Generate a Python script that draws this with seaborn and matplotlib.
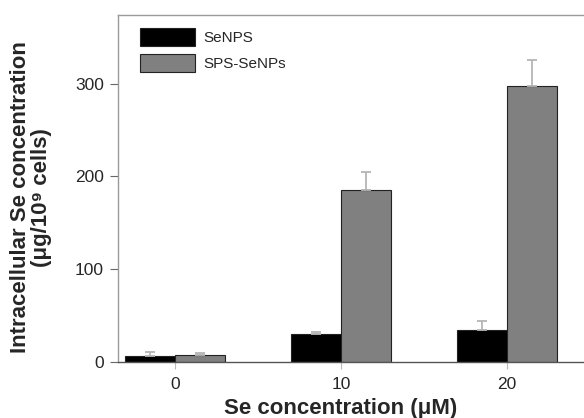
import matplotlib
matplotlib.use("Agg")
import matplotlib.pyplot as plt
import seaborn as sns
import pandas as pd

categories = ["0", "10", "20"]
series = ["SeNPS", "SPS-SeNPs"]
senps_vals = [6.5, 30.0, 34.0]
senps_err = [4.0, 2.5, 10.5]
sps_vals = [7.5, 185.5, 298.0]
sps_err = [2.5, 19.0, 27.0]
yticks = [0, 100, 200, 300]

sns.set_style("white")
plt.rcParams["font.family"] = ["Liberation Sans", "DejaVu Sans"]

df = pd.DataFrame({
    "conc": categories * 2,
    "val": senps_vals + sps_vals,
    "grp": [series[0]] * 3 + [series[1]] * 3,
})
errs = {series[0]: senps_err, series[1]: sps_err}

fig = plt.figure(figsize=(5.84, 4.18), dpi=100)
ax = fig.add_axes([118 / 584, 1 - 362 / 418, 1 - 118 / 584, (362 - 15) / 418])

sns.barplot(data=df, x="conc", y="val", hue="grp", order=categories,
            hue_order=series, palette=["#000000", "#808080"], width=0.6,
            errorbar=None, edgecolor="#222222", linewidth=0.8, ax=ax,
            saturation=1)

for cont, name in zip(ax.containers, series):
    xs = [p.get_x() + p.get_width() / 2 for p in cont.patches]
    hs = [p.get_height() for p in cont.patches]
    ax.errorbar(xs, hs, yerr=[[0] * len(hs), errs[name]], fmt="none",
                ecolor="#b5b5b5", elinewidth=1.3, capsize=3.5, capthick=1.3,
                zorder=1)

ax.set_ylim(0, 374)
ax.set_xlim(-0.343, 2.464)
ax.set_yticks(yticks)
ax.set_yticklabels([str(t) for t in yticks])

for s in ["left", "bottom", "top"]:
    ax.spines[s].set_color("#9a9a9a")
    ax.spines[s].set_linewidth(1.0)
ax.spines["right"].set_visible(False)
ax.spines["bottom"].set_color("#555555")

ax.tick_params(axis="y", direction="out", length=6, width=0.8, color="#666666",
               labelsize=12.5, pad=4, left=True)
ax.tick_params(axis="x", direction="out", length=5, width=0.8, color="#bbbbbb",
               labelsize=12.5, pad=6, bottom=True)

ax.set_xlabel("Se concentration (μM)", fontsize=16, fontweight="bold")
ax.set_ylabel("Intracellular Se concentration\n(μg/10⁹ cells)", fontsize=16,
              fontweight="bold", linespacing=1.0)
ax.xaxis.set_label_coords(0.477, -0.105)
ax.yaxis.set_label_coords(-0.142, 0.475)

leg = ax.legend(loc="upper left", frameon=False, fontsize=11,
                bbox_to_anchor=(0.02, 1.0), handlelength=3.6, handleheight=1.45,
                labelspacing=0.5, handletextpad=0.55, borderaxespad=0.45)

fig.savefig("out.png", dpi=100)
